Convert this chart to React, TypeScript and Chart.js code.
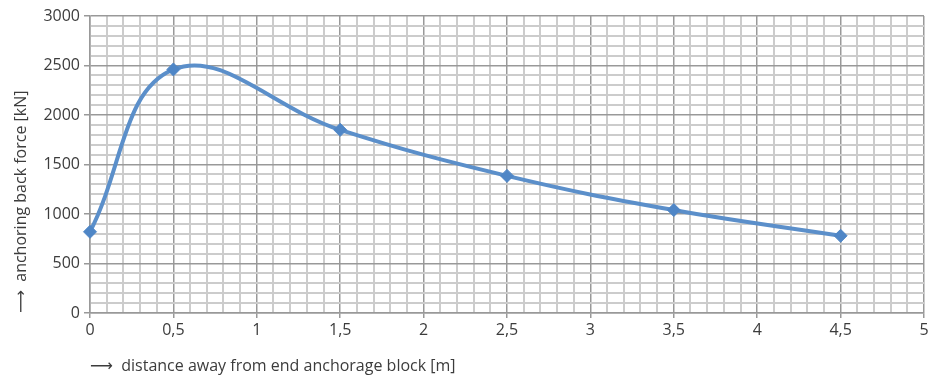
import React, { useEffect, useRef } from "react";
import { Chart, registerables } from "chart.js";

Chart.register(...registerables);

const distances = [0, 0.5, 1.5, 2.5, 3.5, 4.5];
const forces = [820, 2460, 1850, 1385, 1040, 780];
const xTitle = "⟶  distance away from end anchorage block [m]";
const yTitle = "⟶  anchoring back force [kN]";

const FONT = '"Open Sans", "DejaVu Sans", sans-serif';
const TEXT = "#3c3c3c";
const MINOR = "#cccccc";
const MAJOR = "#999999";

const isMult = (v: number, m: number) => Math.abs(v / m - Math.round(v / m)) < 1e-6;

export default function App() {
  const ref = useRef<HTMLCanvasElement | null>(null);
  useEffect(() => {
    document.body.style.margin = "0";
    if (!ref.current) return;
    const chart = new Chart(ref.current, {
      type: "line",
      data: {
        datasets: [
          {
            data: distances.map((d, i) => ({ x: d, y: forces[i] })),
            borderColor: "#5b8fca",
            borderWidth: 4,
            tension: 0.4,
            pointStyle: "rectRot",
            pointRadius: 6.5,
            pointBackgroundColor: "#4f86c6",
            pointBorderColor: "#4f86c6",
            pointBorderWidth: 1,
            clip: false as any,
          },
        ],
      },
      options: {
        animation: false,
        responsive: false,
        maintainAspectRatio: false,
        layout: { padding: { top: 16, right: 14, left: 0, bottom: 0 } },
        plugins: { legend: { display: false }, tooltip: { enabled: false } },
        scales: {
          x: {
            type: "linear",
            min: 0,
            max: 5,
            afterFit: (s: any) => {
              s.height = 65;
            },
            border: { color: MAJOR, width: 1.5 },
            grid: {
              color: (c: any) => (isMult(c.tick.value, 0.5) ? MAJOR : MINOR),
              lineWidth: (c: any) => (isMult(c.tick.value, 0.5) ? 1.5 : 2),
              tickColor: (c: any) => (isMult(c.tick.value, 0.5) ? MAJOR : "rgba(0,0,0,0)"),
              tickLength: 5,
            },
            ticks: {
              stepSize: 0.1,
              autoSkip: false,
              maxRotation: 0,
              padding: 3,
              color: TEXT,
              font: { family: FONT, size: 16 },
              callback: (v: any) => {
                const n = Number(v);
                if (!isMult(n, 0.5)) return "";
                return String(Math.round(n * 2) / 2).replace(".", ",");
              },
            },
            title: {
              display: true,
              text: xTitle,
              align: "start",
              color: TEXT,
              font: { family: FONT, size: 16 },
              padding: { top: 0, bottom: 2 },
            },
          },
          y: {
            type: "linear",
            min: 0,
            max: 3000,
            afterFit: (s: any) => {
              s.width = 90;
            },
            border: { color: MAJOR, width: 1.5 },
            grid: {
              color: (c: any) => (isMult(c.tick.value, 500) ? MAJOR : MINOR),
              lineWidth: (c: any) => (isMult(c.tick.value, 500) ? 1.5 : 2),
              tickColor: (c: any) => (isMult(c.tick.value, 500) ? MAJOR : "rgba(0,0,0,0)"),
              tickLength: 6,
            },
            ticks: {
              stepSize: 100,
              autoSkip: false,
              padding: 4,
              color: TEXT,
              font: { family: FONT, size: 16 },
              callback: (v: any) => {
                const n = Number(v);
                return isMult(n, 500) ? String(Math.round(n)) : "";
              },
            },
            title: {
              display: true,
              text: yTitle,
              align: "start",
              color: TEXT,
              font: { family: FONT, size: 16 },
              padding: { top: 12, bottom: 0 },
            },
          },
        },
      },
    });
    return () => chart.destroy();
  }, []);
  return (
    <div style={{ width: 938, height: 378, background: "#fff" }}>
      <canvas ref={ref} width={938} height={378} style={{ width: 938, height: 378, display: "block" }} />
    </div>
  );
}
